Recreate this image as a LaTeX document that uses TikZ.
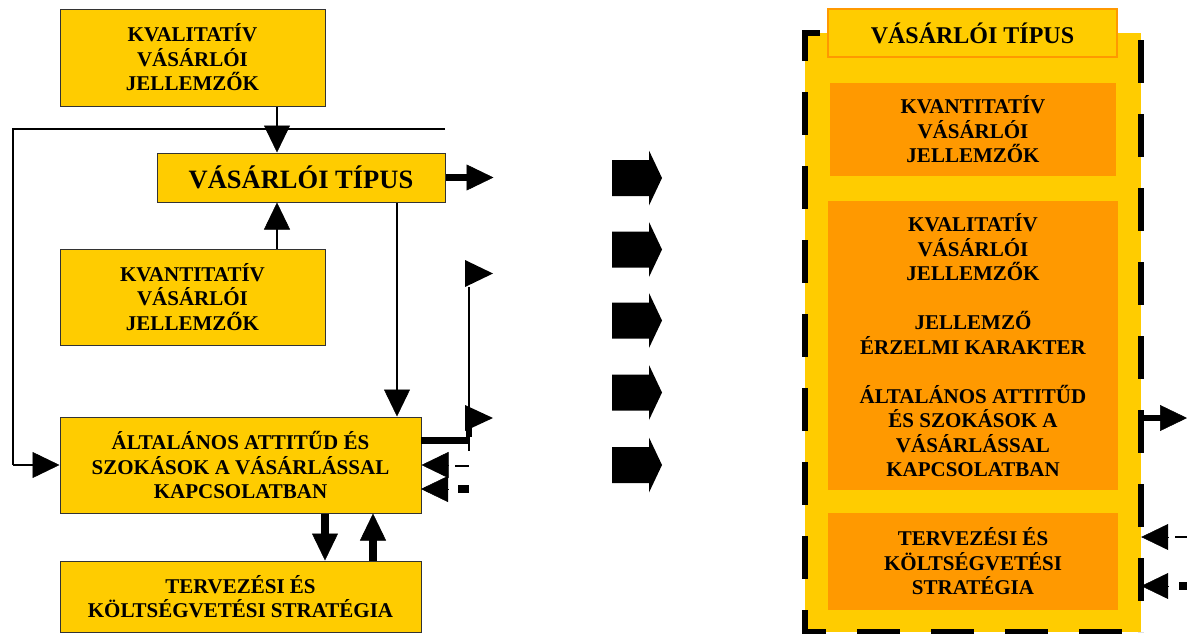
\documentclass[tikz,border=0pt]{standalone}
\usepackage{fontspec}
\setmainfont{Liberation Serif}
\usetikzlibrary{arrows.meta}
\definecolor{yel}{HTML}{FFCC00}
\definecolor{org}{HTML}{FF9900}
\begin{document}
\begin{tikzpicture}[x=1pt,y=-1pt,
  lbox/.style={draw=black!80, line width=1pt, fill=yel, inner sep=0pt, align=center,
    font={\fontsize{21}{24.5}\selectfont\bfseries}},
  obox/.style={fill=org, inner sep=0pt, align=center,
    font={\fontsize{21}{24.5}\selectfont\bfseries}},
  lw/.style={line width=1.5pt},
  thk/.style={line width=6.5pt},
  conn/.style={line width=1.5pt, -{Triangle[length=27pt,width=26pt,line width=0.5pt]}},
  tconn/.style={line width=7.5pt, -{Triangle[length=27pt,width=26pt,line width=0.5pt]}},
  headonly/.style={line width=0.5pt, -{Triangle[length=27pt,width=26pt,line width=0.5pt]}},
  frdash/.style={line width=5.5pt, dash pattern=on 43pt off 31pt},
]
\useasboundingbox (0,0) rectangle (1187,633);

% ---------- left diagram ----------
\node[lbox, minimum width=265pt, minimum height=97pt] (kval) at (192.5,57.5)
  {KVALITATÍV\\VÁSÁRLÓI\\JELLEMZŐK};
\node[lbox, minimum width=288pt, minimum height=49pt,
  font={\fontsize{26.5}{30}\selectfont\bfseries}] (vt) at (301,177.5) {VÁSÁRLÓI TÍPUS};
\node[lbox, minimum width=265pt, minimum height=96pt] (kvant) at (192.5,297)
  {KVANTITATÍV\\VÁSÁRLÓI\\JELLEMZŐK};
\node[lbox, minimum width=361pt, minimum height=96pt] (alt) at (240.5,465)
  {ÁLTALÁNOS ATTITŰD ÉS\\SZOKÁSOK A VÁSÁRLÁSSAL\\KAPCSOLATBAN};
\node[lbox, minimum width=361pt, minimum height=71pt] (terv) at (240.5,596.5)
  {TERVEZÉSI ÉS\\KÖLTSÉGVETÉSI STRATÉGIA};

\coordinate (lt) at (445,129);
\draw[lw] (lt) -- (13,129) -- (13,465);
\draw[conn] (13,465) -- (alt.west);

\draw[conn] ([xshift=84.5pt]kval.south) -- ([xshift=84.5pt]kval.south |- vt.north);
\draw[conn] ([xshift=84.5pt]kvant.north) -- ([xshift=84.5pt]kvant.north |- vt.south);
\draw[conn] ([xshift=96pt]vt.south) -- ([xshift=96pt]vt.south |- alt.north);
\draw[thk] (vt.east) -- ++(22,0);
\draw[headonly] ([xshift=21pt]vt.east) -- ([xshift=48pt]vt.east);

\coordinate (ae) at ([yshift=-24pt]alt.north east);
\draw[thk] ([xshift=-0.5pt]ae) -- ++(48,0) coordinate (ac);
\draw[line width=6.5pt] ([yshift=3.25pt]ac) -- ++(0,-14);
\draw[lw] ([yshift=-10pt]ac) -- (469,287);
\fill (465,260) -- (493,273.5) -- (465,287) -- cycle;
\fill (465,405) -- (493,418) -- (465,431) -- cycle;

\draw[headonly] ([xshift=27pt]alt.east) -- (alt.east);
\draw[lw] (455,466) -- (469,466);
\draw[headonly] (448,489) -- (421,489);
\draw[line width=8pt] (458,489) -- (469,489);

\draw[tconn] ([xshift=84.5pt]alt.south) -- ([xshift=84.5pt]alt.south |- terv.north);
\draw[tconn] ([xshift=132.5pt]terv.north) -- ([xshift=132.5pt]terv.north |- alt.south);

% ---------- block arrows ----------
\foreach \yy in {178,249.5,320.5,392.5,465}{
  \fill (612,{\yy-18}) -- (649,{\yy-18}) -- (649,{\yy-27.5}) -- (662,\yy)
        -- (649,{\yy+27.5}) -- (649,{\yy+18}) -- (612,{\yy+18}) -- cycle;
}

% ---------- right diagram ----------
\node[fill=yel, inner sep=0pt, minimum width=336pt, minimum height=599pt] (frame) at (973,332.5) {};
\draw[frdash] (820,33) -- (805,33) -- (805,632) -- (1141,632);
\draw[frdash, dash phase=67pt] (1141,33) -- (1141,632);
\node[fill=yel, draw=org, line width=1.5pt, inner sep=0pt, minimum width=289pt, minimum height=48pt,
  font={\fontsize{24}{28}\selectfont\bfseries}] (rt) at (972.5,33) {VÁSÁRLÓI TÍPUS};
\node[obox, minimum width=286pt, minimum height=93pt] (o1) at (973,129.5)
  {KVANTITATÍV\\VÁSÁRLÓI\\JELLEMZŐK};
\node[obox, minimum width=290pt, minimum height=289pt] (o2) at (973,345.5)
  {KVALITATÍV\\VÁSÁRLÓI\\JELLEMZŐK\\[24.5pt]JELLEMZŐ\\ÉRZELMI KARAKTER\\[24.5pt]ÁLTALÁNOS ATTITŰD\\ÉS SZOKÁSOK A\\VÁSÁRLÁSSAL\\KAPCSOLATBAN};
\node[obox, minimum width=290pt, minimum height=97pt] (o3) at (973,561.5)
  {TERVEZÉSI ÉS\\KÖLTSÉGVETÉSI\\STRATÉGIA};

\draw[thk] (frame.east |- 0,418) -- ++(21,0);
\draw[headonly] (1160,418) -- (1187,418);
\draw[headonly] (1168,537) -- (frame.east |- 0,537);
\draw[lw] (1175,537) -- (1187,537);
\draw[headonly] (1168,586) -- (frame.east |- 0,586);
\draw[line width=7.5pt] (1179,586) -- (1187,586);
\end{tikzpicture}
\end{document}
